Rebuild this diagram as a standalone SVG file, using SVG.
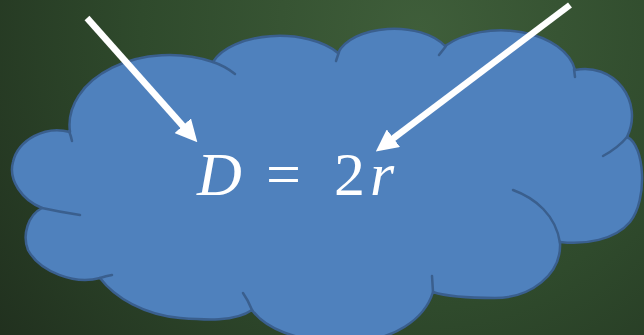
<svg xmlns="http://www.w3.org/2000/svg" width="644" height="335" viewBox="0 0 644 335">
  <style>
    .cloud { fill: #4f81bd; stroke: #3a5f8e; stroke-width: 2.5; stroke-linejoin: round; }
    .tick { fill: none; stroke: #3a5f8e; stroke-width: 2.5; stroke-linecap: round; }
    .arrow { fill: none; stroke: #ffffff; stroke-width: 6.5; marker-end: url(#head); }
    .math { font-family: "Liberation Serif", "Times New Roman", serif; font-size: 62px; fill: #ffffff; }
    .it { font-style: italic; }
  </style>
  <defs>
    <radialGradient id="bg" cx="420" cy="30" r="620" gradientUnits="userSpaceOnUse">
      <stop offset="0" stop-color="#3f5e3a"/>
      <stop offset="0.45" stop-color="#2f4a2c"/>
      <stop offset="1" stop-color="#1b2619"/>
    </radialGradient>
    <marker id="head" viewBox="0 0 22 22" refX="1" refY="11" markerWidth="22" markerHeight="22" orient="auto" markerUnits="userSpaceOnUse">
      <path d="M0,0 L22,11 L0,22 z" fill="#ffffff"/>
    </marker>
  </defs>

  <rect x="0" y="0" width="644" height="335" fill="url(#bg)"/>

  <g id="cloud">
    <path class="cloud" d="M42,208
      C22,200 8,180 13,162
      C18,140 45,125 70,132
      A100,70 0 0 1 213,62
      A70,38 0 0 1 338,53
      A58,33 0 0 1 445,46
      A75,47 0 0 1 575,70
      A47,47 0 0 1 627,137
      C645,145 648,200 630,222
      C615,240 585,245 560,242
      C562,275 530,298 495,298
      C465,298 445,296 433,292
      C425,318 395,342 345,342
      C295,342 265,328 252,310
      C235,322 205,320 180,318
      C145,315 115,298 100,278
      C75,285 40,272 28,250
      C22,235 28,215 42,208 Z"/>
    <path class="tick" d="M42,208 Q60,212 80,215"/>
    <path class="tick" d="M69,131 Q71,136 72,141"/>
    <path class="tick" d="M213,62 Q225,66 235,74"/>
    <path class="tick" d="M339,52 L336,61"/>
    <path class="tick" d="M446,46 Q443,50 439,55"/>
    <path class="tick" d="M574,69 L575,77"/>
    <path class="tick" d="M628,136 Q618,148 603,156"/>
    <path class="tick" d="M513,190 C535,198 556,215 560,243"/>
    <path class="tick" d="M432,276 L433,292"/>
    <path class="tick" d="M243,293 Q248,300 252,310"/>
    <path class="tick" d="M100,278 Q106,276 112,275"/>
  </g>

  <g id="label">
    <text class="math" y="195"><tspan class="it" x="197">D</tspan><tspan x="266">=</tspan><tspan x="334">2</tspan><tspan class="it" x="370">r</tspan></text>
  </g>

  <g id="connectors">
    <path class="arrow" d="M87,18 L183.4,126.5"/>
    <path class="arrow" d="M570,5 L392.6,138.8"/>
  </g>
</svg>
